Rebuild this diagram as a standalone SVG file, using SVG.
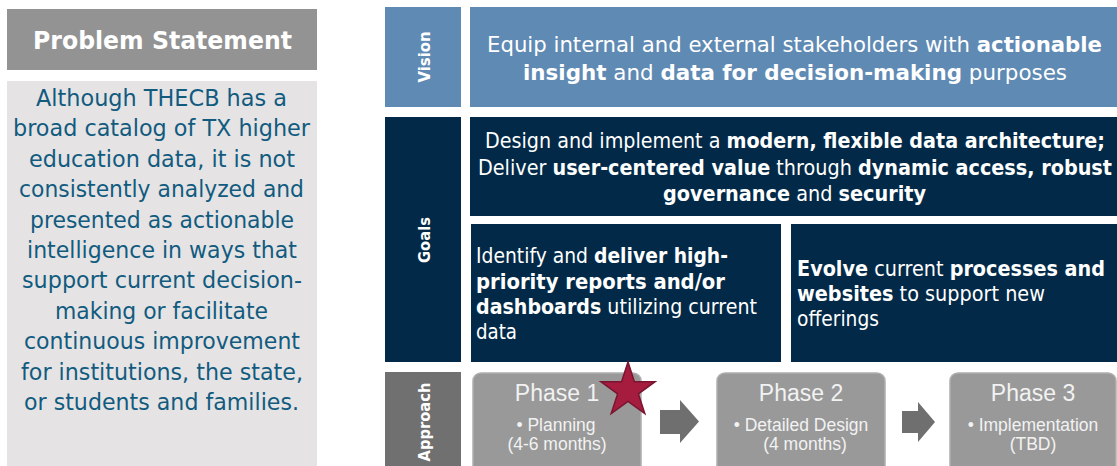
<svg xmlns="http://www.w3.org/2000/svg" width="1117" height="466" viewBox="0 0 1117 466">
<style>
.t{font-family:"DejaVu Sans","Liberation Sans",sans-serif;fill:#ffffff}
.b{font-weight:bold}
.ps{font-family:"DejaVu Sans","Liberation Sans",sans-serif;fill:#115b7f;font-size:23.5px}
.lbl{font-family:"DejaVu Sans","Liberation Sans",sans-serif;fill:#ffffff;font-weight:bold;font-size:16.5px}
.ph{font-family:"Liberation Sans",Arial,sans-serif;fill:#f2f2f2}
.phbox{fill:#999999;stroke:#aeaeae;stroke-width:1.5}
.arrow{fill:#6f6f6f}
</style>
<rect x="0" y="0" width="1117" height="466" fill="#ffffff"/>

<g id="problem-header">
<rect x="7" y="9" width="310" height="61" fill="#939393"/>
<text class="t b" x="33" y="49" font-size="24" textLength="259" lengthAdjust="spacingAndGlyphs">Problem Statement</text>
</g>

<g id="problem-body">
<rect x="7" y="81" width="310" height="390" fill="#e5e3e4"/>
<text class="ps" x="36" y="106" textLength="251" lengthAdjust="spacingAndGlyphs">Although THECB has a</text>
<text class="ps" x="13" y="136.4" textLength="297" lengthAdjust="spacingAndGlyphs">broad catalog of TX higher</text>
<text class="ps" x="29" y="166.8" textLength="266" lengthAdjust="spacingAndGlyphs">education data, it is not</text>
<text class="ps" x="19" y="197.2" textLength="285" lengthAdjust="spacingAndGlyphs">consistently analyzed and</text>
<text class="ps" x="30" y="227.6" textLength="264" lengthAdjust="spacingAndGlyphs">presented as actionable</text>
<text class="ps" x="27" y="258" textLength="270" lengthAdjust="spacingAndGlyphs">intelligence in ways that</text>
<text class="ps" x="22" y="288.4" textLength="280" lengthAdjust="spacingAndGlyphs">support current decision-</text>
<text class="ps" x="55" y="318.8" textLength="213" lengthAdjust="spacingAndGlyphs">making or facilitate</text>
<text class="ps" x="24" y="349.2" textLength="276" lengthAdjust="spacingAndGlyphs">continuous improvement</text>
<text class="ps" x="21" y="379.6" textLength="282" lengthAdjust="spacingAndGlyphs">for institutions, the state,</text>
<text class="ps" x="24" y="410" textLength="275" lengthAdjust="spacingAndGlyphs">or students and families.</text>
</g>

<g id="vision-label">
<rect x="385" y="7" width="76" height="100" fill="#5f8ab4"/>
<text class="lbl" transform="translate(430,57) rotate(-90)" x="-25.5" y="0" textLength="51" lengthAdjust="spacingAndGlyphs">Vision</text>
</g>

<g id="vision">
<rect x="470" y="7" width="647" height="100" fill="#5f8ab4"/>
<text class="t" x="487" y="52" font-size="22" textLength="615" lengthAdjust="spacingAndGlyphs">Equip internal and external stakeholders with <tspan class="b">actionable</tspan></text>
<text class="t" x="523" y="80" font-size="22" textLength="544" lengthAdjust="spacingAndGlyphs"><tspan class="b">insight</tspan> and <tspan class="b">data for decision-making</tspan> purposes</text>
</g>

<g id="goals-label">
<rect x="385" y="117" width="76" height="245" fill="#022a48"/>
<text class="lbl" transform="translate(430,240) rotate(-90)" x="-23" y="0" textLength="46" lengthAdjust="spacingAndGlyphs">Goals</text>
</g>

<g id="goal-architecture">
<rect x="470" y="117" width="647" height="99" fill="#022a48"/>
<text class="t" x="485" y="148" font-size="20.5" textLength="620" lengthAdjust="spacingAndGlyphs">Design and implement a <tspan class="b">modern, flexible data architecture;</tspan></text>
<text class="t" x="478" y="175" font-size="20.5" textLength="634" lengthAdjust="spacingAndGlyphs">Deliver <tspan class="b">user-centered value</tspan> through <tspan class="b">dynamic access, robust</tspan></text>
<text class="t" x="663" y="201" font-size="20.5" textLength="263" lengthAdjust="spacingAndGlyphs"><tspan class="b">governance</tspan> and <tspan class="b">security</tspan></text>
</g>

<g id="goal-reports">
<rect x="471" y="224" width="310" height="138" fill="#022a48"/>
<text class="t" x="476" y="263" font-size="20.5" textLength="252" lengthAdjust="spacingAndGlyphs">Identify and <tspan class="b">deliver high-</tspan></text>
<text class="t b" x="476" y="289" font-size="20.5" textLength="249" lengthAdjust="spacingAndGlyphs">priority reports and/or</text>
<text class="t" x="476" y="314" font-size="20.5" textLength="281" lengthAdjust="spacingAndGlyphs"><tspan class="b">dashboards</tspan> utilizing current</text>
<text class="t" x="476" y="339" font-size="20.5" textLength="41" lengthAdjust="spacingAndGlyphs">data</text>
</g>

<g id="goal-processes">
<rect x="791" y="224" width="326" height="138" fill="#022a48"/>
<text class="t" x="797" y="276" font-size="20.5" textLength="308" lengthAdjust="spacingAndGlyphs"><tspan class="b">Evolve</tspan> current <tspan class="b">processes and</tspan></text>
<text class="t" x="797" y="301" font-size="20.5" textLength="248" lengthAdjust="spacingAndGlyphs"><tspan class="b">websites</tspan> to support new</text>
<text class="t" x="797" y="326" font-size="20.5" textLength="82" lengthAdjust="spacingAndGlyphs">offerings</text>
</g>

<g id="approach-label">
<rect x="385" y="372" width="76" height="100" fill="#707070"/>
<text class="lbl" transform="translate(430,422) rotate(-90)" x="-39.5" y="0" textLength="79" lengthAdjust="spacingAndGlyphs">Approach</text>
</g>

<g id="phase-1">
<rect class="phbox" x="473" y="373" width="168" height="105" rx="8"/>
<text class="ph" x="557" y="401" font-size="23" text-anchor="middle">Phase 1</text>
<text class="ph" x="556" y="431" font-size="17.5" text-anchor="middle">• Planning</text>
<text class="ph" x="557" y="450" font-size="17.5" text-anchor="middle">(4-6 months)</text>
</g>

<g id="phase-2">
<rect class="phbox" x="717" y="373" width="168" height="105" rx="8"/>
<text class="ph" x="801" y="401" font-size="23" text-anchor="middle">Phase 2</text>
<text class="ph" x="801" y="431" font-size="17.5" text-anchor="middle">• Detailed Design</text>
<text class="ph" x="805" y="450" font-size="17.5" text-anchor="middle">(4 months)</text>
</g>

<g id="phase-3">
<rect class="phbox" x="950" y="373" width="166" height="105" rx="8"/>
<text class="ph" x="1033" y="401" font-size="23" text-anchor="middle">Phase 3</text>
<text class="ph" x="1033" y="431" font-size="17.5" text-anchor="middle">• Implementation</text>
<text class="ph" x="1033" y="450" font-size="17.5" text-anchor="middle">(TBD)</text>
</g>

<g id="star">
<polygon points="628,362 634.4,381.7 655.1,381.7 638.4,393.9 644.8,413.6 628,401.4 611.2,413.6 617.6,393.9 600.9,381.7 621.6,381.7" fill="#a51c3e" stroke="#7a1430" stroke-width="1.5" stroke-linejoin="miter"/>
</g>

<g id="connectors">
<polygon class="arrow" points="660,410 680,410 680,400 699,421.5 680,443 680,434 660,434"/>
<polygon class="arrow" points="902,411 918,411 918,402 935,422 918,442 918,433 902,433"/>
</g>
</svg>
